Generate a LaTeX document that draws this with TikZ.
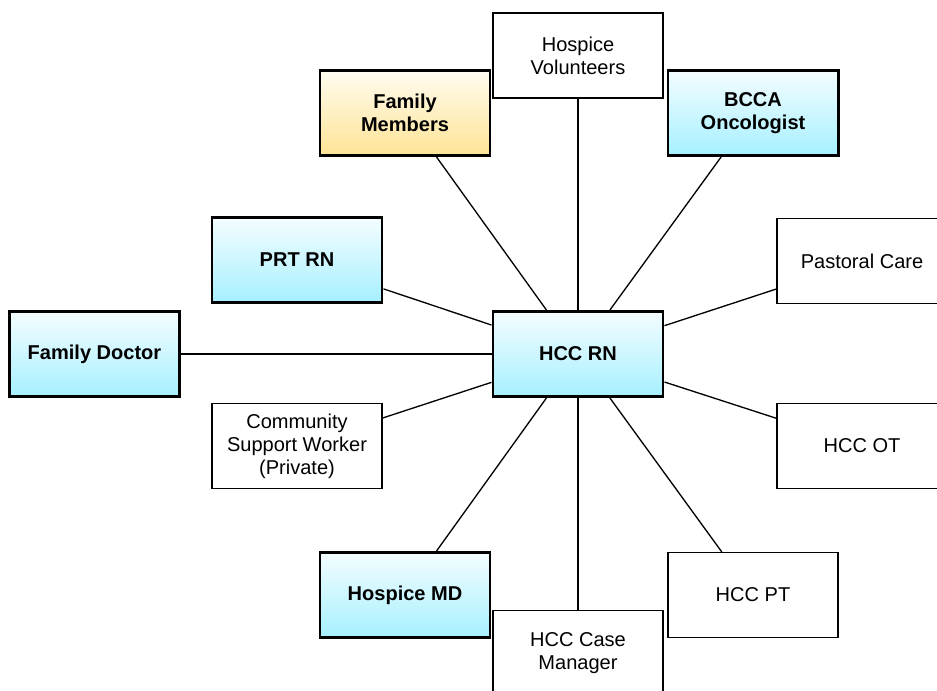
\documentclass[tikz,border=0pt]{standalone}
\usepackage{fontspec}
\setmainfont{Liberation Sans}

\definecolor{cyanlicht}{RGB}{244,253,255}
\definecolor{cyandonker}{RGB}{166,240,255}
\definecolor{geellicht}{RGB}{255,252,240}
\definecolor{geeldonker}{RGB}{255,228,150}

\tikzset{
    box/.style={draw, line width=0.6pt, fill=white, minimum width=3.4cm, minimum height=1.7cm,
        align=center, inner sep=2pt, font=\fontsize{11.4}{13.1}\selectfont},
    kernbox/.style={box, line width=1.7pt, top color=cyanlicht, bottom color=cyandonker,
        font=\fontsize{11.4}{13.1}\selectfont\bfseries},
    familiebox/.style={kernbox, top color=geellicht, bottom color=geeldonker},
    lijn/.style={line width=0.75pt}
}

\begin{document}
\begin{tikzpicture}
    % Kader van de figuur (rechts en onder vallen de dozen er half buiten)
    \clip (-11.56, -6.72) rectangle (7.18, 7.08);

    % Centrale verpleegkundige
    \node[kernbox] (hccrn) at (0, 0) {HCC RN};

    % Bovenste rij
    \node[box] (vrijwilligers) at (0, 5.97) {Hospice\\Volunteers};
    \node[familiebox] (familie) at (-3.46, 4.82) {Family\\Members};
    \node[kernbox] (oncoloog) at (3.5, 4.82) {BCCA\\Oncologist};

    % Middelste rijen
    \node[kernbox] (prtrn) at (-5.62, 1.88) {PRT RN};
    \node[box] (pastoraal) at (5.68, 1.86) {Pastoral Care};
    \node[kernbox] (huisarts) at (-9.67, 0) {Family Doctor};
    \node[box] (steunwerker) at (-5.62, -1.84) {Community\\Support Worker\\(Private)};
    \node[box] (hccot) at (5.68, -1.84) {HCC OT};

    % Onderste rij
    \node[kernbox] (hospicemd) at (-3.46, -4.82) {Hospice MD};
    \node[box] (hccpt) at (3.5, -4.82) {HCC PT};
    \node[box] (casemanager) at (0, -5.98) {HCC Case\\Manager};

    % Verbindingen vanuit het midden
    \foreach \ander in {vrijwilligers, familie, oncoloog, prtrn, pastoraal, huisarts,
        steunwerker, hccot, hospicemd, hccpt, casemanager} {
        \draw[lijn] (hccrn) -- (\ander);
    }
\end{tikzpicture}
\end{document}
